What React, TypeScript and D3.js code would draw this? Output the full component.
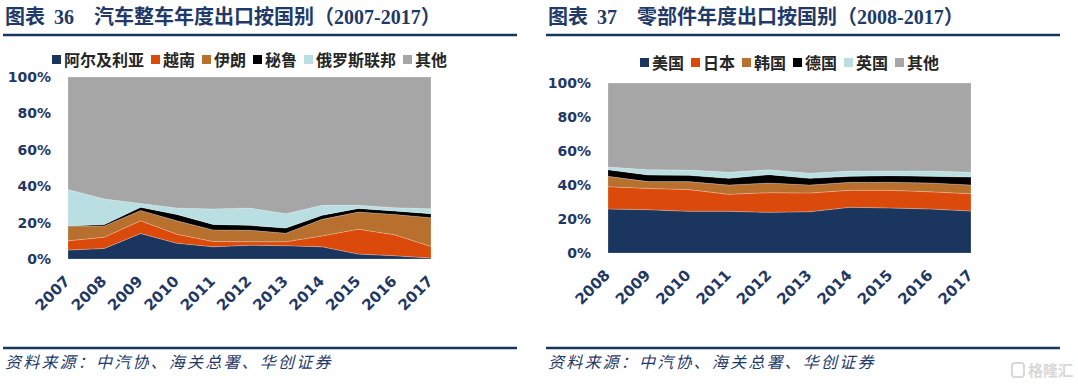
import React, {useEffect, useRef} from 'react'
import * as d3 from 'd3'

// 图表36 汽车整车年度出口按国别 (share, %)
const yearsA = ['2007', '2008', '2009', '2010', '2011', '2012', '2013', '2014', '2015', '2016', '2017']
const keysA = ['阿尔及利亚', '越南', '伊朗', '秘鲁', '俄罗斯联邦', '其他']
const algeria = [4.9, 5.8, 14.0, 8.7, 6.7, 7.6, 7.3, 6.7, 2.7, 1.8, 0.5]
const vietnam = [5.1, 6.2, 7.0, 4.9, 2.9, 1.9, 2.2, 6.0, 13.7, 11.5, 6.4]
const iran = [7.8, 6.2, 5.7, 7.4, 6.4, 6.3, 4.7, 9.1, 9.4, 11.2, 15.8]
const peru = [0.4, 0.7, 1.7, 3.5, 3.0, 2.7, 2.8, 2.2, 2.0, 1.9, 2.2]
const russia = [20.0, 14.1, 2.1, 3.5, 8.5, 9.5, 7.9, 5.5, 1.7, 1.8, 2.7]
const otherA = [61.8, 67.0, 69.5, 72.0, 72.5, 72.0, 75.1, 70.5, 70.5, 71.8, 72.4]

// 图表37 零部件年度出口按国别 (share, %)
const yearsB = ['2008', '2009', '2010', '2011', '2012', '2013', '2014', '2015', '2016', '2017']
const keysB = ['美国', '日本', '韩国', '德国', '英国', '其他']
const usa = [25.9, 25.5, 24.5, 24.5, 23.9, 24.3, 26.9, 26.5, 25.9, 24.7]
const japan = [13.1, 12.5, 12.8, 10.0, 11.6, 11.0, 10.0, 10.4, 10.1, 10.2]
const korea = [6.1, 4.0, 4.7, 5.5, 5.7, 4.7, 4.7, 4.7, 5.2, 5.1]
const germany = [3.9, 3.9, 3.7, 3.9, 4.9, 3.9, 3.5, 3.9, 3.9, 4.7]
const uk = [1.6, 3.1, 3.1, 3.6, 2.9, 3.0, 3.1, 2.7, 3.1, 2.8]
const otherB = [49.4, 51.0, 51.2, 52.5, 51.0, 53.1, 51.8, 51.8, 51.8, 52.5]

const yTicks = [0, 0.2, 0.4, 0.6, 0.8, 1]
const colors = ['#1a365f', '#dc4a0b', '#b8702f', '#000000', '#b9dfe2', '#a6a6a6']

const navy = '#1f3864'
const cjk = '"Noto Sans CJK SC", sans-serif'
const serif = '"Liberation Serif", "Times New Roman", serif'
const sans = '"DejaVu Sans", Verdana, sans-serif'

function drawPanel(svg, o) {
    const g = svg.append('g')

    // title
    const t = g.append('text')
        .attr('x', o.left + 5)
        .attr('y', 24)
        .attr('fill', '#1f3a68')
        .style('font-weight', 700)
    t.append('tspan').style('font-family', cjk).style('font-size', '20px').text('图表')
    t.append('tspan').attr('dx', 9).style('font-family', serif).style('font-size', '20px').text(o.num)
    t.append('tspan').attr('dx', 20).style('font-family', cjk).style('font-size', '20px').text(o.title + '（')
    t.append('tspan').style('font-family', serif).style('font-size', '20px').text(o.range)
    t.append('tspan').style('font-family', cjk).style('font-size', '20px').text('）')

    g.append('line')
        .attr('x1', o.left + 3).attr('x2', o.left + 517)
        .attr('y1', 35).attr('y2', 35)
        .attr('stroke', '#17375e').attr('stroke-width', 2.5)

    g.append('line')
        .attr('x1', o.left + 3).attr('x2', o.left + 517)
        .attr('y1', 348).attr('y2', 348)
        .attr('stroke', '#17375e').attr('stroke-width', 2.5)

    g.append('text')
        .attr('x', o.left + 5)
        .attr('y', 368)
        .attr('fill', '#1f3a68')
        .style('font-family', cjk)
        .style('font-size', '16px')
        .style('font-style', 'italic')
        .style('letter-spacing', '2.2px')
        .text('资料来源：中汽协、海关总署、华创证券')

    // stacked areas
    const rows = o.years.map((y, i) => {
        const r = {year: y}
        o.keys.forEach((k, j) => { r[k] = o.series[j][i] })
        return r
    })
    const stack = d3.stack().keys(o.keys).offset(d3.stackOffsetExpand)
    const layers = stack(rows)

    const x = d3.scaleLinear().domain([0, o.years.length - 1]).range([o.x0, o.x1])
    const y = d3.scaleLinear().domain([0, 1]).range([o.y1, o.y0])

    const area = d3.area()
        .x((d, i) => x(i))
        .y0(d => y(d[0]))
        .y1(d => y(d[1]))

    g.selectAll('path.layer')
        .data(layers)
        .enter()
        .append('path')
        .attr('class', 'layer')
        .attr('d', area)
        .attr('fill', (d, i) => colors[i])
        .attr('stroke', '#ffffff')
        .attr('stroke-opacity', 0.35)
        .attr('stroke-width', 0.6)

    // y labels
    g.selectAll('text.ylab')
        .data(yTicks)
        .enter()
        .append('text')
        .attr('class', 'ylab')
        .attr('x', o.x0 - 17)
        .attr('y', d => y(d))
        .attr('dy', '0.36em')
        .attr('text-anchor', 'end')
        .attr('fill', navy)
        .style('font-family', sans)
        .style('font-weight', 700)
        .style('font-size', '14px')
        .text(d => Math.round(d * 100) + '%')

    // x labels
    g.selectAll('text.xlab')
        .data(o.years)
        .enter()
        .append('text')
        .attr('class', 'xlab')
        .attr('transform', (d, i) => 'translate(' + (x(i) + 3) + ',' + (o.y1 + 23) + ') rotate(-45)')
        .attr('text-anchor', 'end')
        .attr('fill', navy)
        .style('font-family', sans)
        .style('font-weight', 700)
        .style('font-size', '15px')
        .text(d => d)

    // legend
    const itemW = o.keys.map(k => 9 + 3 + k.length * 16)
    const gap = 7
    const total = d3.sum(itemW) + gap * (o.keys.length - 1)
    let lx = (o.x0 + o.x1) / 2 - total / 2
    const leg = g.append('g')
    o.keys.forEach((k, i) => {
        leg.append('rect')
            .attr('x', lx).attr('y', o.legendY - 5)
            .attr('width', 9).attr('height', 9)
            .attr('fill', colors[i])
        leg.append('text')
            .attr('x', lx + 12).attr('y', o.legendY)
            .attr('dy', '0.36em')
            .attr('fill', '#262626')
            .style('font-family', cjk)
            .style('font-weight', 700)
            .style('font-size', '16px')
            .text(k)
        lx += itemW[i] + gap
    })
}

function App() {
    const ref = useRef(null)

    useEffect(() => {
        const svg = d3.select(ref.current)
        svg.selectAll('*').remove()

        drawPanel(svg, {
            left: 0, num: '36', title: '汽车整车年度出口按国别', range: '2007-2017',
            x0: 68, x1: 431, y0: 77, y1: 259, legendY: 60,
            years: yearsA, keys: keysA,
            series: [algeria, vietnam, iran, peru, russia, otherA]
        })
        drawPanel(svg, {
            left: 543, num: '37', title: '零部件年度出口按国别', range: '2008-2017',
            x0: 608, x1: 971, y0: 83, y1: 253, legendY: 63,
            years: yearsB, keys: keysB,
            series: [usa, japan, korea, germany, uk, otherB]
        })

        // watermark
        const wm = svg.append('g').attr('opacity', 0.9)
        wm.append('rect')
            .attr('x', 1012).attr('y', 363).attr('width', 12).attr('height', 14)
            .attr('rx', 3).attr('fill', 'none')
            .attr('stroke', '#d4d4d4').attr('stroke-width', 2)
        wm.append('text')
            .attr('x', 1028).attr('y', 376)
            .attr('fill', '#d4d4d4')
            .style('font-family', cjk)
            .style('font-size', '15px')
            .style('font-weight', 700)
            .text('格隆汇')
    }, [])

    return (
        <div style={{position: 'absolute', left: 0, top: 0}}>
            <svg ref={ref} width={1078} height={392} style={{display: 'block', background: '#ffffff'}}></svg>
        </div>
    )
}

export default App
